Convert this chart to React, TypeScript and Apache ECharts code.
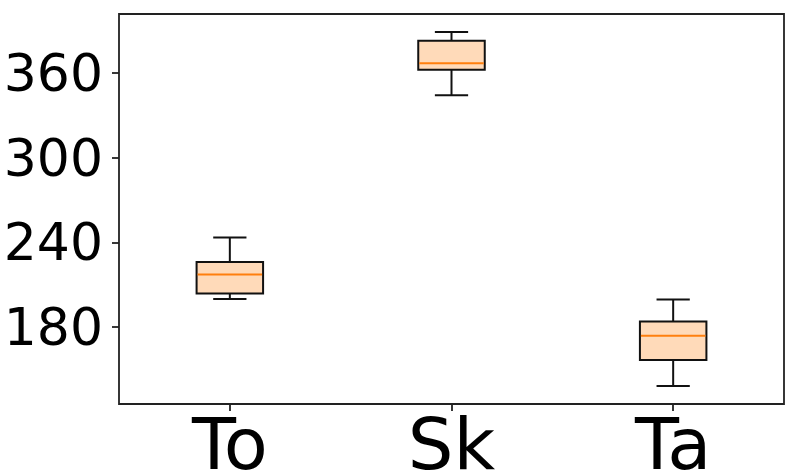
import React, { useEffect, useRef } from "react";
import * as echarts from "echarts";

const categories = ["To", "Sk", "Ta"];
const whiskerLow = [199.8, 344.2, 138.2];
const q1 = [203.8, 362.3, 156.6];
const median = [217.2, 366.9, 173.8];
const q3 = [226.0, 382.9, 183.9];
const whiskerHigh = [243.4, 389.0, 199.5];
const yTicks = [180, 240, 300, 360];

export default function App() {
  const ref = useRef<HTMLDivElement>(null);
  useEffect(() => {
    if (!ref.current) return;
    const chart = echarts.init(ref.current, null, { renderer: "svg" });
    const data = categories.map((_, i) => [i, whiskerLow[i], q1[i], median[i], q3[i], whiskerHigh[i]]);
    const lw = 2;
    chart.setOption({
      animation: false,
      grid: {
        left: 119,
        right: 9,
        top: 14,
        bottom: 72,
        containLabel: false,
        outerBoundsMode: "none",
        show: true,
        borderColor: "#222",
        borderWidth: 1.8,
        backgroundColor: "transparent",
      },
      xAxis: {
        type: "category",
        data: categories,
        boundaryGap: true,
        axisLine: { show: false },
        axisTick: { show: true, alignWithLabel: true, length: 7, lineStyle: { color: "#222", width: 1.8 } },
        axisLabel: { fontFamily: "DejaVu Sans", fontSize: 72, color: "#000", margin: 4 },
        splitLine: { show: false },
      },
      yAxis: {
        type: "value",
        min: 125.4,
        max: 401.8,
        axisLine: { show: false },
        axisTick: { show: true, length: 7, customValues: yTicks, lineStyle: { color: "#222", width: 1.8 } },
        axisLabel: { fontFamily: "DejaVu Sans", fontSize: 52, color: "#000", margin: 16, customValues: yTicks },
        splitLine: { show: false },
      },
      series: [
        {
          type: "custom",
          data: data,
          encode: { x: 0, y: [1, 2, 3, 4, 5] },
          renderItem: (params: any, api: any) => {
            const idx = api.value(0);
            const band = api.size([1, 0])[0];
            const bw = band * 0.3;
            const cw = bw / 2;
            const pLow = api.coord([idx, api.value(1)]);
            const pQ1 = api.coord([idx, api.value(2)]);
            const pMed = api.coord([idx, api.value(3)]);
            const pQ3 = api.coord([idx, api.value(4)]);
            const pHigh = api.coord([idx, api.value(5)]);
            const cx = pLow[0];
            const stroke = { stroke: "#111", lineWidth: lw };
            return {
              type: "group",
              children: [
                { type: "line", shape: { x1: cx, y1: pQ1[1], x2: cx, y2: pLow[1] }, style: stroke },
                { type: "line", shape: { x1: cx, y1: pQ3[1], x2: cx, y2: pHigh[1] }, style: stroke },
                { type: "line", shape: { x1: cx - cw / 2, y1: pLow[1], x2: cx + cw / 2, y2: pLow[1] }, style: stroke },
                { type: "line", shape: { x1: cx - cw / 2, y1: pHigh[1], x2: cx + cw / 2, y2: pHigh[1] }, style: stroke },
                {
                  type: "rect",
                  shape: { x: cx - bw / 2, y: pQ3[1], width: bw, height: pQ1[1] - pQ3[1] },
                  style: { fill: "#ffdab9", stroke: "#111", lineWidth: lw },
                },
                {
                  type: "line",
                  shape: { x1: cx - bw / 2 + 1, y1: pMed[1], x2: cx + bw / 2 - 1, y2: pMed[1] },
                  style: { stroke: "#ff7f0e", lineWidth: lw },
                },
              ],
            };
          },
        },
      ],
    });
    return () => chart.dispose();
  }, []);
  return <div ref={ref} style={{ width: 793, height: 476, position: "absolute", left: 0, top: 0 }} />;
}
